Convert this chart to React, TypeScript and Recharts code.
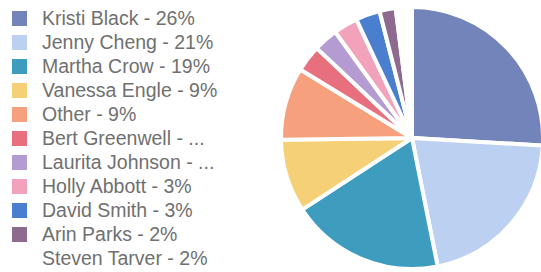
import { PieChart, Pie, Cell } from 'recharts';

const names = [
  'Kristi Black',
  'Jenny Cheng',
  'Martha Crow',
  'Vanessa Engle',
  'Other',
  'Bert Greenwell',
  'Laurita Johnson',
  'Holly Abbott',
  'David Smith',
  'Arin Parks',
  'Steven Tarver'
];

const shares = [26, 21, 19, 9, 9, 3.3, 3, 3, 3, 2, 2];

const legendLabels = [
  'Kristi Black - 26%',
  'Jenny Cheng - 21%',
  'Martha Crow - 19%',
  'Vanessa Engle - 9%',
  'Other - 9%',
  'Bert Greenwell - ...',
  'Laurita Johnson - ...',
  'Holly Abbott - 3%',
  'David Smith - 3%',
  'Arin Parks - 2%',
  'Steven Tarver - 2%'
];

const colors = [
  '#7384bb',
  '#bcd0f2',
  '#3e9cbf',
  '#f6d077',
  '#f6a07e',
  '#e86f7d',
  '#b49bd2',
  '#f2a2bb',
  '#4a7fd0',
  '#8e6a8f',
  '#ffffff'
];

const pieData = names.map((name, i) => ({ name, value: shares[i] }));

function SideLegend () {
  return (
    <div
      style={{
        position  : 'absolute',
        left      : 8,
        top       : 6,
        fontFamily: '"Liberation Sans", Arial, sans-serif'
      }}
    >
      {legendLabels.map((label, i) => (
        <div
          key={label}
          style={{ display: 'flex', alignItems: 'center', height: 24 }}
        >
          <span
            style={{
              display    : 'inline-block',
              width      : 15,
              height     : 15,
              marginLeft : 4,
              marginRight: 15,
              background : colors[i]
            }}
          />
          <span style={{ fontSize: 19.5, color: '#707070' }}>{label}</span>
        </div>
      ))}
    </div>
  );
}

export default function App () {
  return (
    <div style={{ position: 'absolute', left: 0, top: 0, width: 541, height: 272, background: '#fff' }}>
      <PieChart
        width={541}
        height={272}
        margin={{ top: 0, right: 0, bottom: 0, left: 0 }}
      >
        <Pie
          data={pieData}
          dataKey="value"
          nameKey="name"
          cx={412}
          cy={138}
          outerRadius={131}
          startAngle={90}
          endAngle={-270}
          stroke="#ffffff"
          strokeWidth={4}
          isAnimationActive={false}
        >
          {pieData.map((d, i) => (
            <Cell key={d.name} fill={colors[i]} />
          ))}
        </Pie>
      </PieChart>
      <SideLegend />
    </div>
  );
}
